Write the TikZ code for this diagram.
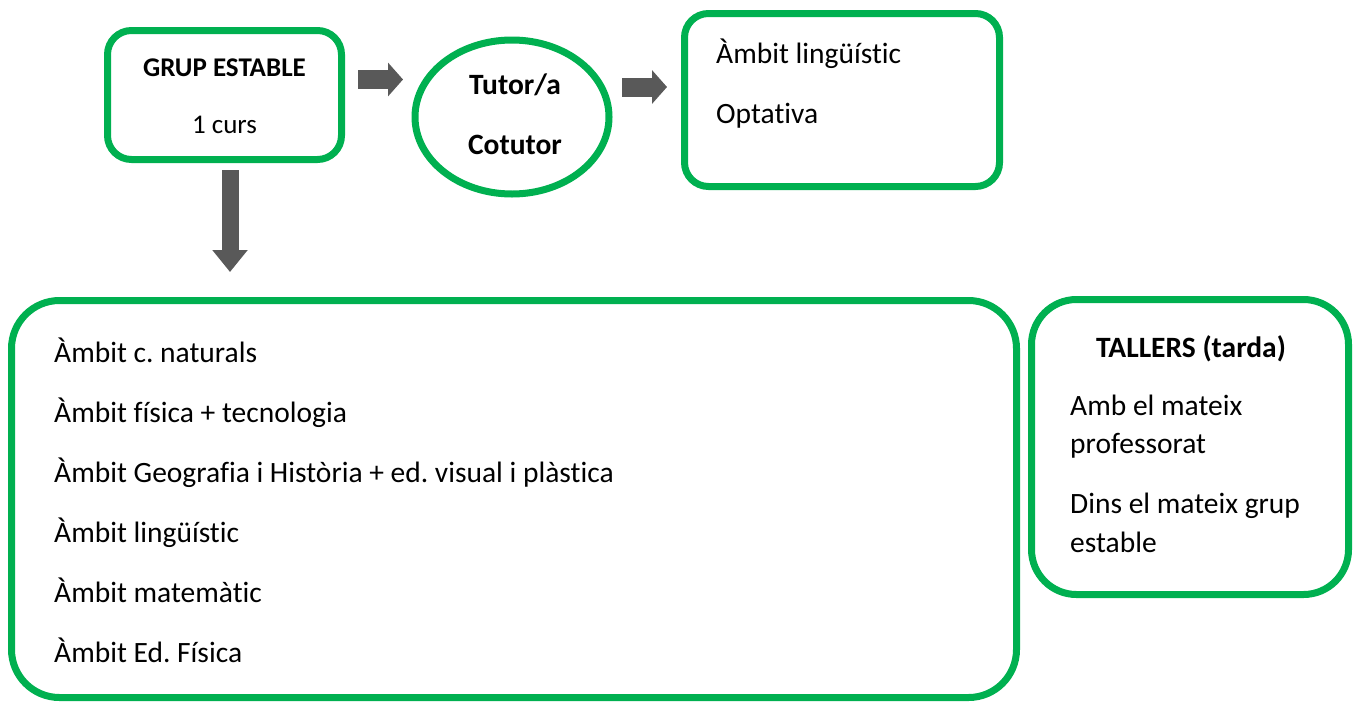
\documentclass[tikz,border=0pt]{standalone}
\usepackage{fontspec}
\setmainfont{Carlito}[Ligatures=NoCommon]
\usetikzlibrary{arrows.meta,shapes.geometric}
\definecolor{grn}{HTML}{00B050}
\definecolor{arr}{HTML}{595959}
\frenchspacing
\tikzset{
  gbox/.style={draw=grn,line width=7pt,rounded corners=#1},
  fat/.style={draw=arr,line width=#1},
  txt/.style={anchor=base west,inner sep=0pt,font=\fontsize{29.5}{34}\selectfont},
  ctxt/.style={anchor=base,inner sep=0pt},
}
\begin{document}
\begin{tikzpicture}[x=1pt,y=-1pt]
\useasboundingbox (0,0) rectangle (1359,702);
% boxes
\draw[gbox=24pt] (107.5,30.5) rectangle (341.5,159.5);
\node[draw=grn,line width=7pt,ellipse,minimum width=194pt,minimum height=154pt,inner sep=0pt] (tut) at (512,117) {};
\draw[gbox=24pt] (684.5,13.5) rectangle (999.5,186.5);
\draw[gbox=48pt] (11.5,300.5) rectangle (1016.5,697.5);
\draw[gbox=45pt] (1031.5,299.5) rectangle (1348.5,594.5);
% named anchors
\coordinate (a1s) at (358,79.5);
\coordinate (a1e) at (403,79.5);
\coordinate (a2s) at (622,87);
\coordinate (a2e) at (667,87);
\coordinate (a3s) at (230,170);
\coordinate (a3e) at (230,272);
\draw[fat=19pt,-{Triangle[width=33pt,length=15pt]}] (a1s) -- (a1e);
\draw[fat=19pt,-{Triangle[width=33pt,length=15pt]}] (a2s) -- (a2e);
\draw[fat=17pt,-{Triangle[width=34pt,length=22pt]}] (a3s) -- (a3e);
% texts
\node[ctxt,font=\fontsize{27}{32}\selectfont\bfseries] (g1) at (224.5,76) {GRUP ESTABLE};
\node[ctxt,font=\fontsize{27}{32}\selectfont] (g2) at (224.5,133) {1 curs};
\node[ctxt,font=\fontsize{29.5}{34}\selectfont\bfseries] (t1) at (515,94) {Tutor/a};
\node[ctxt,font=\fontsize{29.5}{34}\selectfont\bfseries] (t2) at (515,154) {Cotutor};
\node[txt] (o1) at (716,63) {Àmbit lingüístic};
\node[txt] (o2) at (716,123) {Optativa};
\node[txt] (b1) at (54,362) {Àmbit c. naturals};
\node[txt] (b2) at (54,422) {Àmbit física + tecnologia};
\node[txt] (b3) at (54,482) {Àmbit Geografia i Història + ed. visual i plàstica};
\node[txt] (b4) at (54,542) {Àmbit lingüístic};
\node[txt] (b5) at (54,602) {Àmbit matemàtic};
\node[txt] (b6) at (54,662) {Àmbit Ed. Física};
\node[ctxt,font=\fontsize{29.5}{34}\selectfont\bfseries] (w0) at (1191,357) {TALLERS (tarda)};
\node[txt] (w1) at (1070,415) {Amb el mateix};
\node[txt] (w2) at (1070,453) {professorat};
\node[txt] (w3) at (1070,513) {Dins el mateix grup};
\node[txt] (w4) at (1070,552) {estable};
\end{tikzpicture}
\end{document}
